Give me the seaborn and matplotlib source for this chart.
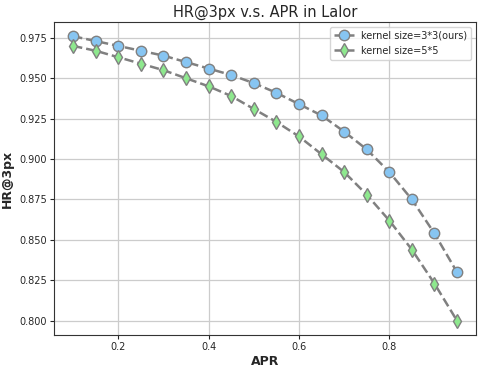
import matplotlib
matplotlib.use("Agg")
import matplotlib.pyplot as plt
import seaborn as sns
import pandas as pd

apr = [0.10, 0.15, 0.20, 0.25, 0.30, 0.35, 0.40, 0.45, 0.50,
       0.55, 0.60, 0.65, 0.70, 0.75, 0.80, 0.85, 0.90, 0.95]
hr_k3 = [0.976, 0.973, 0.970, 0.967, 0.964, 0.960, 0.956, 0.952, 0.947,
         0.941, 0.934, 0.927, 0.917, 0.906, 0.892, 0.875, 0.854, 0.830]
hr_k5 = [0.970, 0.967, 0.963, 0.959, 0.955, 0.950, 0.945, 0.939, 0.931,
         0.923, 0.914, 0.903, 0.892, 0.878, 0.862, 0.844, 0.823, 0.800]
labels = ["kernel size=3*3(ours)", "kernel size=5*5"]

sns.set_style("ticks")
plt.rcParams["font.family"] = ["DejaVu Sans"]

fig, ax = plt.subplots(figsize=(4.82, 3.73), dpi=100)

df3 = pd.DataFrame({"APR": apr, "HR": hr_k3})
df5 = pd.DataFrame({"APR": apr, "HR": hr_k5})

sns.lineplot(data=df3, x="APR", y="HR", ax=ax, color="gray", linestyle="--",
             linewidth=1.8, marker="o", markersize=7.5,
             markerfacecolor="#87c5f2", markeredgecolor="gray",
             markeredgewidth=1.0, label=labels[0])
sns.lineplot(data=df5, x="APR", y="HR", ax=ax, color="gray", linestyle="--",
             linewidth=1.8, marker="d", markersize=7.5,
             markerfacecolor="#8ee88e", markeredgecolor="gray",
             markeredgewidth=1.0, label=labels[1])

ax.grid(True, color="#cccccc", linewidth=0.9)
ax.set_axisbelow(True)
ax.set_title("HR@3px v.s. APR in Lalor", fontsize=10.5, pad=4)
ax.set_xlabel("APR", fontsize=9, fontweight="semibold", labelpad=2)
ax.set_ylabel("HR@3px", fontsize=9, fontweight="semibold", labelpad=4)
ax.tick_params(labelsize=7, pad=2, length=3)
ax.set_xticks([0.2, 0.4, 0.6, 0.8])
ax.set_yticks([0.800, 0.825, 0.850, 0.875, 0.900, 0.925, 0.950, 0.975])
for s in ax.spines.values():
    s.set_color("#333333")
ax.legend(loc="upper right", fontsize=7, frameon=True)

fig.subplots_adjust(left=0.112, right=0.988, top=0.941, bottom=0.102)
plt.savefig("out.png")
plt.close()
